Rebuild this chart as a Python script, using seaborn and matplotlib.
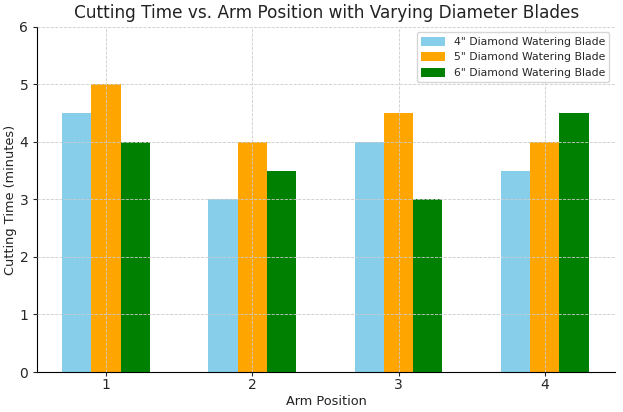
import pandas as pd
import seaborn as sns
import matplotlib.pyplot as plt

positions = ["1", "2", "3", "4"]
blades = ['4" Diamond Watering Blade', '5" Diamond Watering Blade', '6" Diamond Watering Blade']
blade_4 = [4.5, 3.0, 4.0, 3.5]
blade_5 = [5.0, 4.0, 4.5, 4.0]
blade_6 = [4.0, 3.5, 3.0, 4.5]
colors = ["skyblue", "orange", "green"]

rows = []
for blade, vals in zip(blades, [blade_4, blade_5, blade_6]):
    for p, v in zip(positions, vals):
        rows.append({"Arm Position": p, "Cutting Time": v, "Blade": blade})
df = pd.DataFrame(rows)

sns.set_style("white")
plt.rcParams["font.family"] = ["DejaVu Sans"]

fig, ax = plt.subplots(figsize=(6.23, 4.12), dpi=100)
sns.barplot(data=df, x="Arm Position", y="Cutting Time", hue="Blade",
            palette=colors, width=0.6, gap=0, saturation=1, linewidth=0, ax=ax)

ax.set_xlim(-0.47, 3.48)
ax.set_ylim(0, 6)
ax.set_title("Cutting Time vs. Arm Position with Varying Diameter Blades", fontsize=12.2, color="#222222")
ax.set_xlabel("Arm Position", fontsize=9.3, color="#222222", labelpad=2)
ax.set_ylabel("Cutting Time (minutes)", fontsize=9.3, color="#222222", labelpad=2)
ax.tick_params(labelsize=10, length=3, left=True, bottom=True)
ax.tick_params(axis="x", pad=1.5)
ax.grid(True, linestyle="--", color="#cccccc", linewidth=0.6)
ax.set_axisbelow(False)
sns.despine(ax=ax)
for s in ["left", "bottom"]:
    ax.spines[s].set_color("black")
ax.legend(title=None, loc="upper right", fontsize=7.8, handlelength=2.2, handleheight=0.9)

fig.subplots_adjust(left=0.06, right=0.987, top=0.935, bottom=0.097)
fig.savefig("out.png", dpi=100)
